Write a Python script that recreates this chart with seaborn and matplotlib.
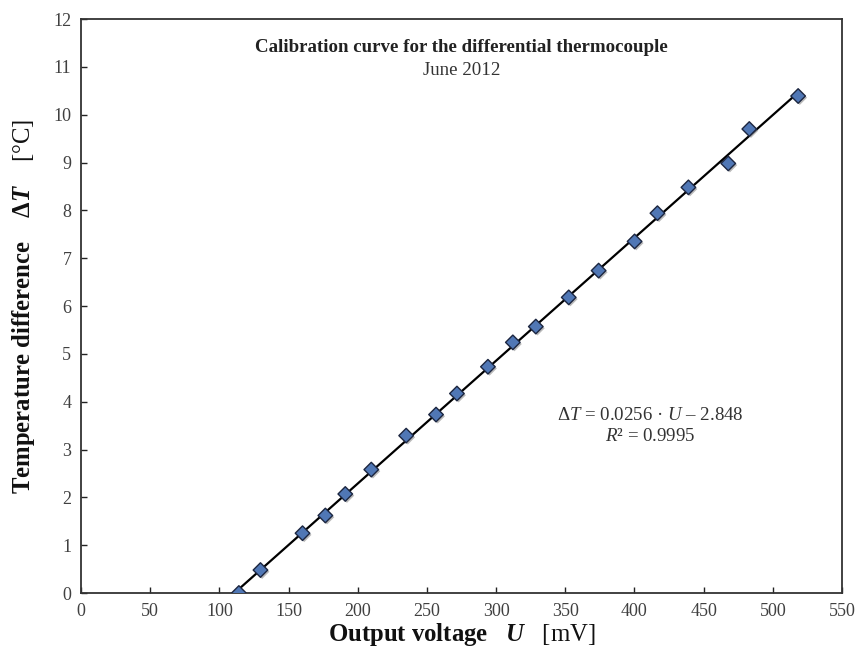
import matplotlib
matplotlib.use("Agg")
import matplotlib.pyplot as plt
import matplotlib.patheffects as pe
import seaborn as sns
import pandas as pd

# Data
voltage_mV = [114.1, 129.7, 160.1, 176.6, 191.0, 209.8, 235.0, 256.6, 271.7, 294.1,
              312.1, 328.7, 352.5, 374.1, 400.1, 416.6, 439.0, 467.8, 483.0, 518.3]
delta_T = [0.00, 0.48, 1.25, 1.62, 2.07, 2.58, 3.29, 3.73, 4.17, 4.73,
           5.24, 5.57, 6.18, 6.74, 7.35, 7.94, 8.48, 8.98, 9.70, 10.39]
x_ticks = list(range(0, 551, 50))
y_ticks = list(range(0, 13, 1))
title_text = "Calibration curve for the differential thermocouple"
subtitle_text = "June 2012"

df = pd.DataFrame({"U": voltage_mV, "dT": delta_T})

sns.set_theme(style="white")
plt.rcParams["font.family"] = ["Liberation Serif", "DejaVu Serif"]
plt.rcParams["mathtext.fontset"] = "custom"
plt.rcParams["mathtext.rm"] = "Liberation Serif"
plt.rcParams["mathtext.it"] = "Liberation Serif:italic"
plt.rcParams["mathtext.bf"] = "Liberation Serif:bold"
plt.rcParams["mathtext.bfit"] = "Liberation Serif:bold:italic"

fig = plt.figure(figsize=(8.57, 6.55), dpi=100)
ax = fig.add_axes([81 / 857, 1 - 593 / 655, (842 - 81) / 857, (593 - 19) / 655])

sns.regplot(data=df, x="U", y="dT", ax=ax, ci=None, scatter=False, truncate=True,
            line_kws=dict(color="black", lw=1.6, zorder=2))
sns.scatterplot(data=df, x="U", y="dT", ax=ax, marker="D", s=55,
                color="#5077b5", edgecolor="#1c2640", linewidth=1.0, zorder=3,
                path_effects=[pe.SimplePatchShadow(offset=(1.2, -1.2), shadow_rgbFace="0.55", alpha=0.6),
                              pe.Normal()])

ax.set_xlim(0, 550)
ax.set_ylim(0, 12)
ax.set_xticks(x_ticks)
ax.set_yticks(y_ticks)
ax.tick_params(axis="both", direction="in", length=4, width=1.0, color="#222222",
               labelsize=13, labelcolor="#404040", bottom=True, left=True, pad=7)
for s in ax.spines.values():
    s.set_visible(True)
    s.set_color("#333333")
    s.set_linewidth(1.3)

ax.set_xlabel(r"Output voltage   $\mathbfit{U}$   $\mathrm{[mV]}$", fontsize=17.8,
              fontweight="bold", color="#111111")
ax.set_ylabel(r"Temperature difference    $\mathbf{Δ}\mathbfit{T}$    $\mathrm{[°C]}$",
              fontsize=17.8, fontweight="bold", color="#111111")
ax.xaxis.set_label_coords(0.5, -0.048)
ax.yaxis.set_label_coords(-0.058, 0.5)

ax.text(0.5, 0.951, title_text, transform=ax.transAxes, ha="center", va="center",
        fontsize=13.6, fontweight="bold", color="#222222")
ax.text(0.5, 0.911, subtitle_text, transform=ax.transAxes, ha="center", va="center",
        fontsize=13.6, color="#333333")

ax.text(0.748, 0.310, r"Δ$\mathit{T}$ = 0.0256 · $\mathit{U}$ – 2.848",
        transform=ax.transAxes, ha="center", va="center", fontsize=13.6, color="#333333")
ax.text(0.748, 0.272, r"$\mathit{R}$² = 0.9995",
        transform=ax.transAxes, ha="center", va="center", fontsize=13.6, color="#333333")

fig.savefig("out.png", dpi=100)
